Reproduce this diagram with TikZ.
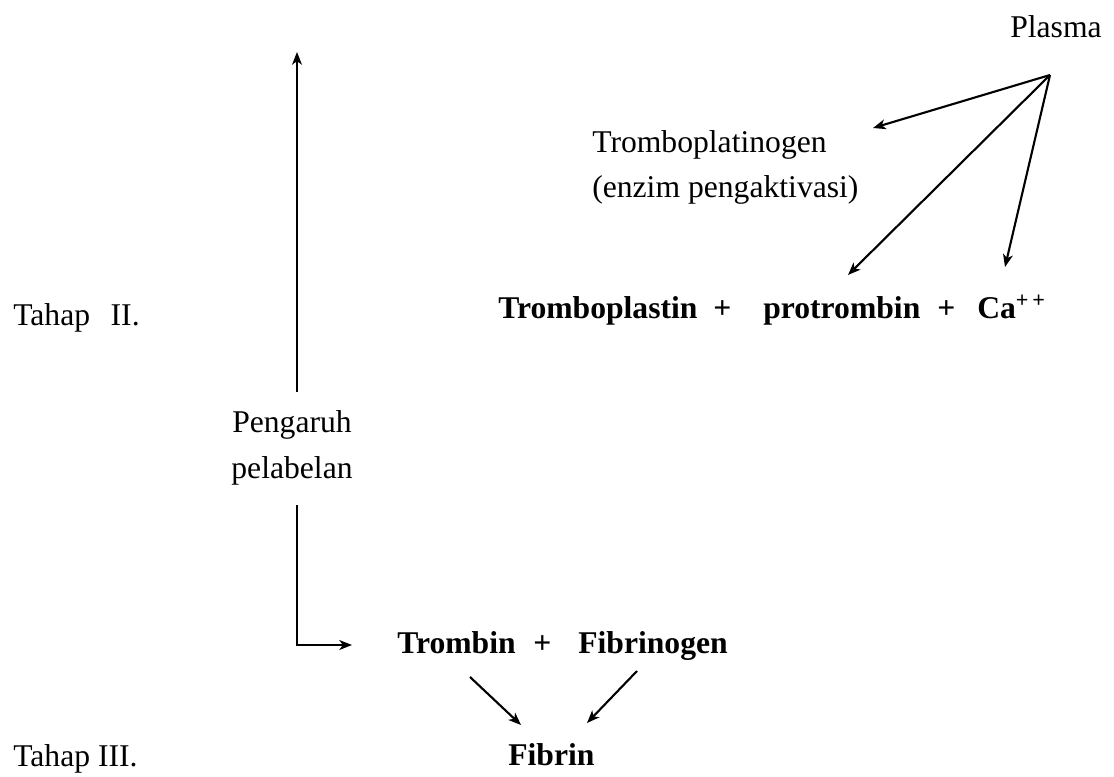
\documentclass[tikz,border=0pt]{standalone}
\usepackage{fontspec}
\setmainfont{Liberation Serif}
\usetikzlibrary{arrows.meta}
\begin{document}
\begin{tikzpicture}[x=0.025cm,y=-0.025cm,
  lbl/.style={inner sep=0pt, anchor=base west, font=\fontsize{22.5}{27}\selectfont},
  blbl/.style={inner sep=0pt, anchor=base west, font=\fontsize{22.5}{27}\selectfont\bfseries},
  clbl/.style={inner sep=0pt, anchor=base, font=\fontsize{22.5}{27}\selectfont},
  arr/.style={-{Stealth[length=9pt,width=7pt,inset=2.5pt]}, line width=1.5pt}]
\useasboundingbox (0,0) rectangle (1114,777);
% texts
\node[lbl] (plasma) at (1010,37) {Plasma};
\node[lbl] (tpg) at (592,152) {Tromboplatinogen};
\node[lbl] (enz) at (592,197) {(enzim pengaktivasi)};
\node[lbl] (t2) at (13,325) {Tahap\hspace{0.4em} II.};
\node[blbl] (tplas) at (498,318) {Tromboplastin};
\node[blbl] (plus1) at (713,318) {+};
\node[blbl] (prot) at (763,318) {protrombin};
\node[blbl] (plus2) at (937,318) {+};
\node[blbl] (ca) at (977,318) {Ca\textsuperscript{+\,+}};
\node[clbl] (peng1) at (292,432) {Pengaruh};
\node[clbl] (peng2) at (292,478) {pelabelan};
\node[blbl] (trombin) at (397,653) {Trombin};
\node[blbl] (plus3) at (533,653) {+};
\node[blbl] (fibrinogen) at (578,653) {Fibrinogen};
\node[blbl] (fibrin) at (508,765) {Fibrin};
\node[lbl] (t3) at (13,766) {Tahap III.};
% connector points
\coordinate (po) at (1050,75);
\coordinate (a1) at (873,128);
\coordinate (a2) at (848,275);
\coordinate (a3) at (1005,267);
\coordinate (vbot) at (297,392);
\coordinate (vtop) at (297,52);
\coordinate (ltop) at (297,505);
\coordinate (lend) at (352,645);
\coordinate (f1s) at (470,677);
\coordinate (f1e) at (521,725);
\coordinate (f2s) at (637,671);
\coordinate (f2e) at (587,723);
% connectors
\draw[arr] (po) -- (a1);
\draw[arr] (po) -- (a2);
\draw[arr] (po) -- (a3);
\draw[arr] (vbot) -- (vtop);
\draw[arr] (ltop) |- (lend);
\draw[arr] (f1s) -- (f1e);
\draw[arr] (f2s) -- (f2e);
\end{tikzpicture}
\end{document}
